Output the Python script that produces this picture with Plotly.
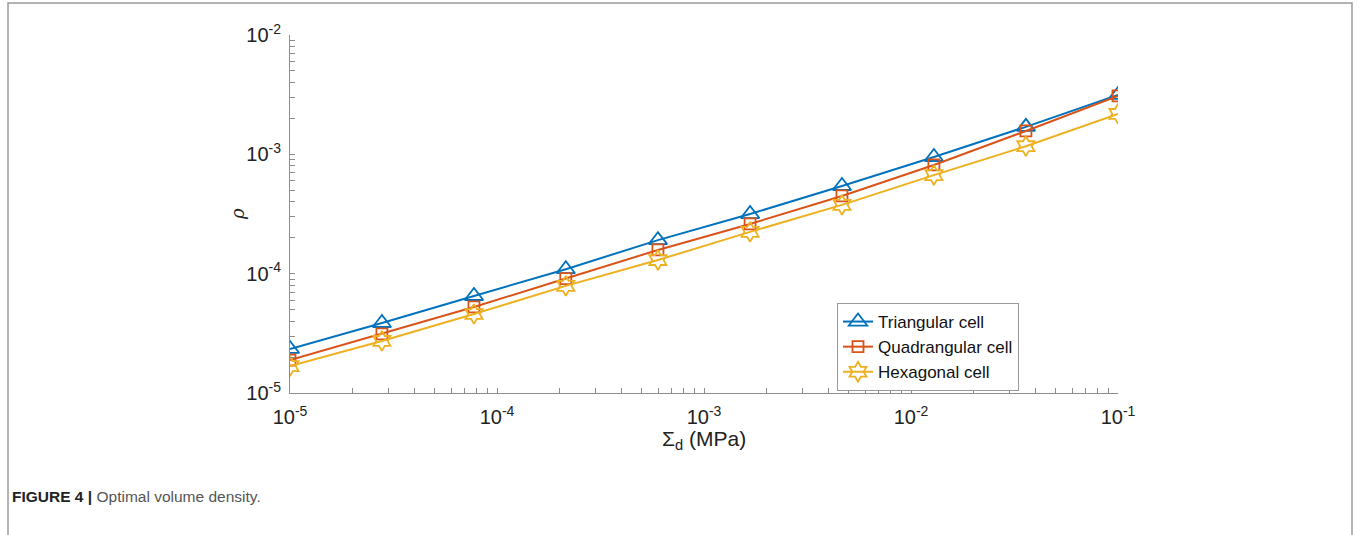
import numpy as np
import plotly.graph_objects as go

# Data
sigma_d = [1e-5, 2.78e-5, 7.74e-5, 2.15e-4, 5.99e-4, 1.67e-3, 4.64e-3, 1.29e-2, 3.59e-2, 1e-1]
rho_tri = [2.34e-5, 3.86e-5, 6.5e-5, 1.09e-4, 1.91e-4, 3.16e-4, 5.43e-4, 9.5e-4, 1.70e-3, 3.15e-3]
rho_quad = [1.89e-5, 3.13e-5, 5.26e-5, 9.1e-5, 1.58e-4, 2.61e-4, 4.48e-4, 8.15e-4, 1.57e-3, 3.09e-3]
rho_hex = [1.68e-5, 2.73e-5, 4.59e-5, 7.9e-5, 1.30e-4, 2.24e-4, 3.77e-4, 6.7e-4, 1.17e-3, 2.18e-3]
names = ["Triangular cell", "Quadrangular cell", "Hexagonal cell"]
x_decades = [-5, -4, -3, -2, -1]
y_decades = [-5, -4, -3, -2]

colors = ["#0072BD", "#D95319", "#EDB120"]
symbols = ["triangle-up-open", "square-open", "hexagram-open"]
sizes = [16, 11, 15]

fig = go.Figure()
for ys, nm, c, s, sz in zip([rho_tri, rho_quad, rho_hex], names, colors, symbols, sizes):
    fig.add_trace(go.Scatter(
        x=sigma_d, y=ys, name=nm, mode="lines+markers",
        line=dict(color=c, width=2),
        marker=dict(symbol=s, size=sz, color=c, line=dict(width=1.8, color=c)),
    ))

def major_ticks(decs):
    return [10.0 ** d for d in decs], ["10<sup>%d</sup>" % d for d in decs]

def minor_ticks(decs):
    return [m * 10.0 ** d for d in decs[:-1] for m in range(2, 10)]

xv, xt = major_ticks(x_decades)
yv, yt = major_ticks(y_decades)

axis_col = "#8c8c8c"
L, R, T, B = 290, 242, 35, 142
W, H = 1360, 535
pw, ph = W - L - R, H - T - B

def px(xp):
    return (xp - L) / pw

def py(yp):
    return (H - B - yp) / ph

tfont = dict(family="Liberation Sans, Arial", size=20, color="#222")
fig.update_xaxes(
    type="log", range=[-5, -1], tickvals=xv, ticktext=xt,
    ticks="inside", ticklen=5, tickcolor=axis_col, tickwidth=1,
    minor=dict(tickvals=minor_ticks(x_decades), ticks="inside", ticklen=5,
               tickcolor=axis_col, tickwidth=1, showgrid=False),
    showline=True, linecolor=axis_col, linewidth=1, showgrid=False, zeroline=False,
    tickfont=tfont, ticklabelstandoff=6,
)
fig.update_yaxes(
    type="log", range=[-5, -2], tickvals=yv, ticktext=yt,
    ticks="inside", ticklen=5, tickcolor=axis_col, tickwidth=1,
    minor=dict(tickvals=minor_ticks(y_decades), ticks="inside", ticklen=5,
               tickcolor=axis_col, tickwidth=1, showgrid=False),
    showline=True, linecolor=axis_col, linewidth=1, showgrid=False, zeroline=False,
    tickfont=tfont, ticklabelstandoff=4,
)

fig.update_layout(
    width=W, height=H,
    margin=dict(l=L, r=R, t=T, b=B),
    paper_bgcolor="white", plot_bgcolor="white",
    showlegend=True,
    legend=dict(
        x=px(837), y=py(303), xanchor="left", yanchor="top",
        bordercolor="#999999", borderwidth=1, bgcolor="white",
        font=dict(family="Liberation Sans, Arial", size=17, color="#111"),
        itemwidth=30, tracegroupgap=0,
    ),
    annotations=[
        dict(text="Σ<sub>d</sub> (MPa)", x=0.5, y=py(440), xref="paper", yref="paper",
             showarrow=False, xanchor="center", yanchor="middle",
             font=dict(family="Liberation Sans, Arial", size=21, color="#222")),
        dict(text="<i>ρ</i>", x=px(237), y=py(214), xref="paper", yref="paper",
             showarrow=False, xanchor="center", yanchor="middle", textangle=-90,
             font=dict(family="DejaVu Serif, serif", size=18, color="#222")),
        dict(text="<b>FIGURE 4 |</b> <span style='color:#555'>Optimal volume density.</span>",
             x=px(10), y=py(497), xref="paper", yref="paper",
             showarrow=False, xanchor="left", yanchor="middle",
             font=dict(family="Liberation Sans, Arial", size=15.5, color="#222")),
    ],
    shapes=[
        dict(type="rect", xref="paper", yref="paper",
             x0=px(8), x1=px(1352), y0=py(545), y1=py(3),
             line=dict(color="#9a9a9a", width=1.5), fillcolor="rgba(0,0,0,0)", layer="below"),
    ],
)

fig.write_html("out.html")
